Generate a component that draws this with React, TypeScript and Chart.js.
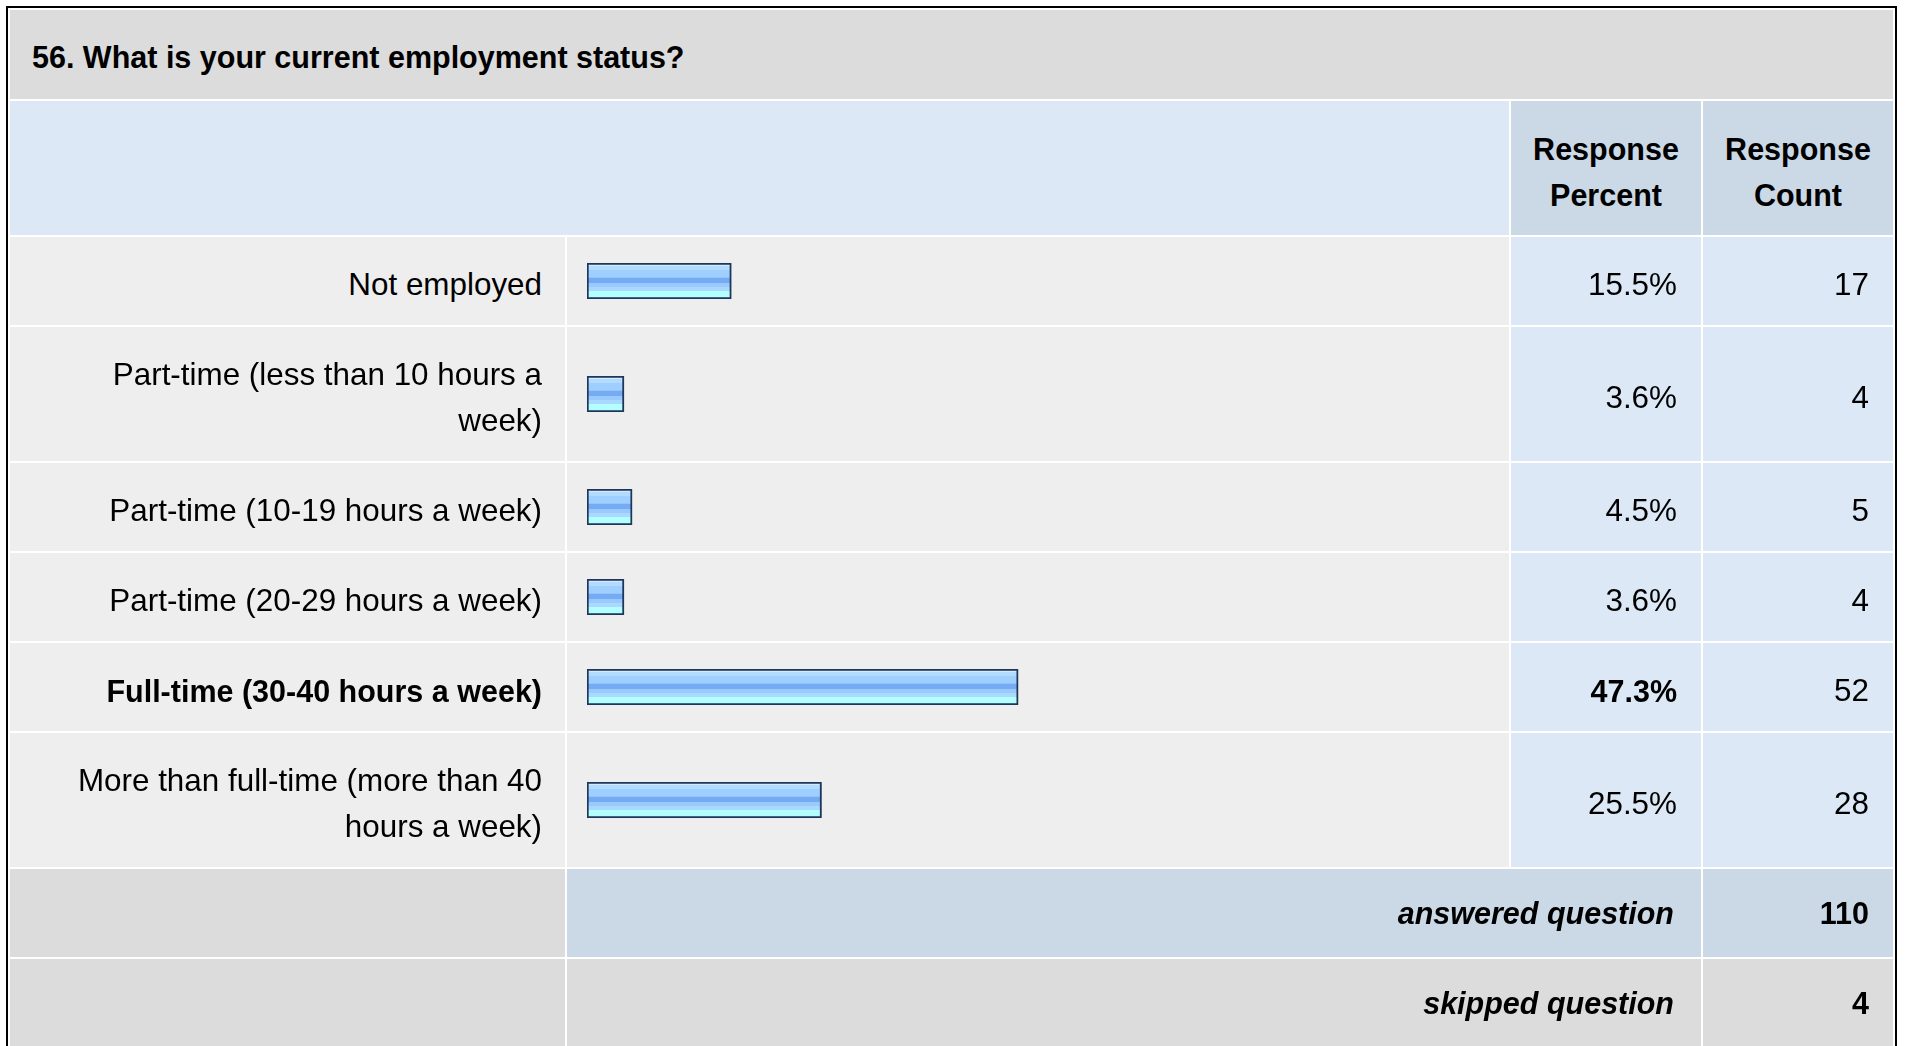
import React, { useEffect, useRef } from "react";
import { Chart, registerables } from "chart.js";

Chart.register(...registerables);

const title = "56. What is your current employment status?";
const headerPercent = ["Response", "Percent"];
const headerCount = ["Response", "Count"];
const categories = [
  "Not employed",
  "Part-time (less than 10 hours a week)",
  "Part-time (10-19 hours a week)",
  "Part-time (20-29 hours a week)",
  "Full-time (30-40 hours a week)",
  "More than full-time (more than 40 hours a week)",
];
const percents = [15.5, 3.6, 4.5, 3.6, 47.3, 25.5];
const counts = [17, 4, 5, 4, 52, 28];
const answeredLabel = "answered question";
const answeredCount = 110;
const skippedLabel = "skipped question";
const skippedCount = 4;

const AXIS_MIN = -0.5;
const AXIS_MAX = 99.5;

const FONT = '"Liberation Sans", Arial, Helvetica, sans-serif';
const C_TITLE = "#dcdcdc";
const C_HEAD = "#dce8f5";
const C_HEAD_DARK = "#cbd8e6";
const C_ROW = "#eeeeee";
const C_ROW_BLUE = "#dce8f5";
const C_FOOT = "#dcdcdc";

const stripeStops: [number, string][] = [
  [0.0, "#d2e9ff"],
  [0.09, "#d2e9ff"],
  [0.095, "#b3daff"],
  [0.19, "#b3daff"],
  [0.195, "#9ecfff"],
  [0.4, "#9ecfff"],
  [0.41, "#74abf2"],
  [0.56, "#74abf2"],
  [0.565, "#9acafd"],
  [0.67, "#9acafd"],
  [0.675, "#a9d9ff"],
  [0.77, "#a9d9ff"],
  [0.775, "#b3ffff"],
  [1.0, "#b3ffff"],
];

function BarCell({ value }: { value: number }) {
  const ref = useRef<HTMLCanvasElement>(null);
  useEffect(() => {
    if (!ref.current) return;
    const chart = new Chart(ref.current, {
      type: "bar",
      data: {
        labels: [""],
        datasets: [
          {
            data: [value],
            base: AXIS_MIN,
            backgroundColor: (ctx: any) => {
              const c = ctx.chart;
              const area = c.chartArea;
              if (!area) return "#9ecfff";
              const g = c.ctx.createLinearGradient(0, area.top, 0, area.bottom);
              stripeStops.forEach(([o, col]) => g.addColorStop(o, col));
              return g;
            },
            borderColor: "#1d3659",
            borderWidth: 2,
            borderSkipped: false,
            barPercentage: 1,
            categoryPercentage: 1,
          } as any,
        ],
      },
      options: {
        indexAxis: "y",
        responsive: false,
        maintainAspectRatio: false,
        animation: false,
        events: [],
        layout: { padding: 0 },
        plugins: { legend: { display: false }, tooltip: { enabled: false } },
        scales: {
          x: { display: false, min: AXIS_MIN, max: AXIS_MAX },
          y: { display: false },
        },
      },
    });
    return () => chart.destroy();
  }, [value]);
  return (
    <canvas
      ref={ref}
      width={902}
      height={36}
      style={{ display: "block", width: 902, height: 36 }}
    />
  );
}

const cellBase: React.CSSProperties = {
  display: "flex",
  alignItems: "center",
  boxSizing: "border-box",
  lineHeight: "46px",
};

const textCell: React.CSSProperties = {
  ...cellBase,
  paddingTop: 7,
};

const REG = "31.4px";
const BOLD = "30.5px";

export default function App() {
  const maxIdx = percents.indexOf(Math.max(...percents));
  const rowHeights = categories.map((c) => (c.length > 32 ? 134 : 88));
  const rows = ["89px", "134px", ...rowHeights.map((h) => h + "px"), "88px", "88px"].join(" ");

  return (
    <div
      style={{
        position: "absolute",
        left: 0,
        top: 0,
        width: 1907,
        height: 1046,
        overflow: "hidden",
        background: "#fff",
        fontFamily: FONT,
        fontSize: REG,
        color: "#000",
      }}
    >
      <div
        style={{
          position: "absolute",
          left: 6,
          top: 6,
          width: 1891,
          boxSizing: "border-box",
          border: "2px solid #000",
          padding: 2,
          background: "#fff",
          display: "grid",
          gridTemplateColumns: "555px 942px 190px 190px",
          gridTemplateRows: rows,
          gap: 2,
        }}
      >
        <div
          style={{
            ...cellBase,
            paddingTop: 4,
            gridColumn: "1 / span 4",
            background: C_TITLE,
            paddingLeft: 22,
            fontWeight: "bold",
            fontSize: BOLD,
          }}
        >
          {title}
        </div>
        <div style={{ ...cellBase, gridColumn: "1 / span 2", background: C_HEAD }} />
        <div
          style={{
            ...textCell,
            background: C_HEAD_DARK,
            justifyContent: "center",
            textAlign: "center",
            fontWeight: "bold",
            fontSize: BOLD,
          }}
        >
          <div>
            {headerPercent[0]}
            <br />
            {headerPercent[1]}
          </div>
        </div>
        <div
          style={{
            ...textCell,
            background: C_HEAD_DARK,
            justifyContent: "center",
            textAlign: "center",
            fontWeight: "bold",
            fontSize: BOLD,
          }}
        >
          <div>
            {headerCount[0]}
            <br />
            {headerCount[1]}
          </div>
        </div>
        {categories.map((cat, i) => {
          const bold = i === maxIdx;
          return (
            <React.Fragment key={cat}>
              <div
                style={{
                  ...textCell,
                  background: C_ROW,
                  justifyContent: "flex-end",
                  textAlign: "right",
                  paddingLeft: 22,
                  paddingRight: 23,
                  fontWeight: bold ? "bold" : "normal",
                  fontSize: bold ? BOLD : REG,
                }}
              >
                <div>{cat}</div>
              </div>
              <div style={{ ...cellBase, background: C_ROW, paddingLeft: 20 }}>
                <BarCell value={percents[i]} />
              </div>
              <div
                style={{
                  ...textCell,
                  background: C_ROW_BLUE,
                  justifyContent: "flex-end",
                  paddingRight: 24,
                  fontWeight: bold ? "bold" : "normal",
                  fontSize: bold ? BOLD : REG,
                }}
              >
                {percents[i].toFixed(1)}%
              </div>
              <div
                style={{
                  ...textCell,
                  background: C_ROW_BLUE,
                  justifyContent: "flex-end",
                  paddingRight: 24,
                }}
              >
                {counts[i]}
              </div>
            </React.Fragment>
          );
        })}
        <div style={{ ...cellBase, background: C_FOOT }} />
        <div
          style={{
            ...cellBase,
            gridColumn: "2 / span 2",
            background: C_HEAD_DARK,
            justifyContent: "flex-end",
            paddingRight: 27,
            fontWeight: "bold",
            fontStyle: "italic",
            fontSize: BOLD,
          }}
        >
          {answeredLabel}
        </div>
        <div
          style={{
            ...cellBase,
            background: C_HEAD_DARK,
            justifyContent: "flex-end",
            paddingRight: 24,
            fontWeight: "bold",
            fontSize: BOLD,
          }}
        >
          {answeredCount}
        </div>
        <div style={{ ...cellBase, background: C_FOOT }} />
        <div
          style={{
            ...cellBase,
            gridColumn: "2 / span 2",
            background: C_FOOT,
            justifyContent: "flex-end",
            paddingRight: 27,
            fontWeight: "bold",
            fontStyle: "italic",
            fontSize: BOLD,
          }}
        >
          {skippedLabel}
        </div>
        <div
          style={{
            ...cellBase,
            background: C_FOOT,
            justifyContent: "flex-end",
            paddingRight: 24,
            fontWeight: "bold",
            fontSize: BOLD,
          }}
        >
          {skippedCount}
        </div>
      </div>
    </div>
  );
}
